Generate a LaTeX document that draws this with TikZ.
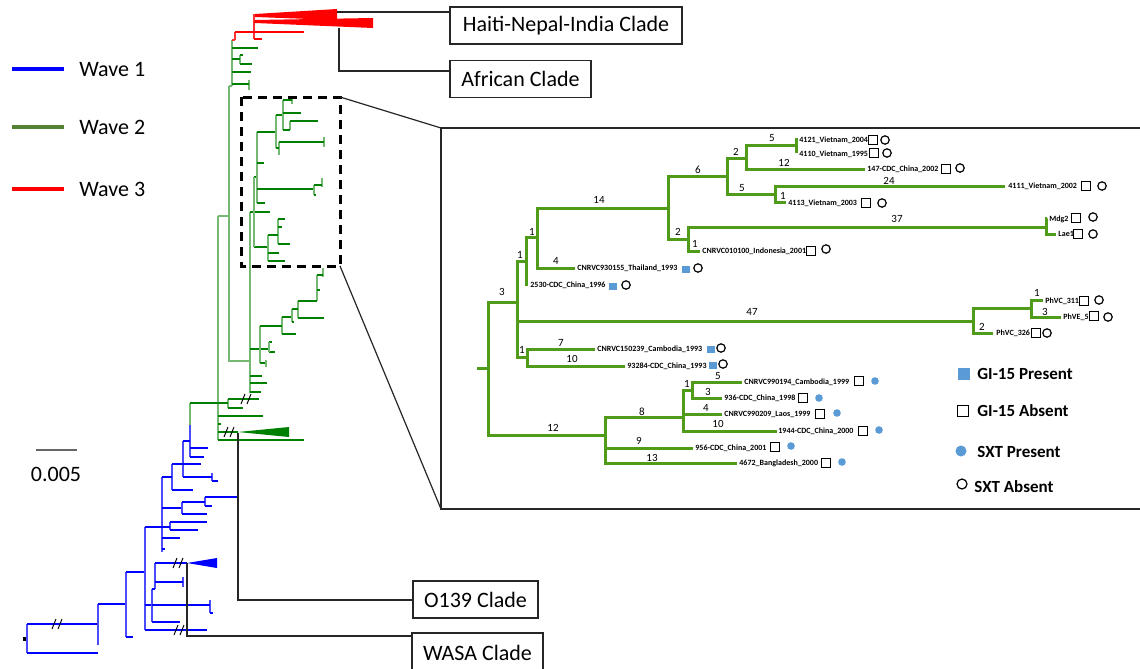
\documentclass[tikz,border=0pt]{standalone}
\usepackage{fontspec}
\setmainfont{Carlito}
\usepackage{xcolor}
\usepackage{tikz}
\usetikzlibrary{calc}

\definecolor{waveblue}{RGB}{0,0,255}
\definecolor{wavegreen}{RGB}{0,128,0}
\definecolor{wavered}{RGB}{255,0,0}
\definecolor{keygreen}{RGB}{84,130,53}
\definecolor{insetgreen}{RGB}{80,155,25}
\definecolor{markblue}{RGB}{91,155,213}

\begin{document}
\begin{tikzpicture}[x=0.5pt,y=-0.5pt,line join=miter,
    w1/.style={draw=waveblue,line width=1.3pt},
    w1v/.style={draw=waveblue!70,line width=0.8pt},
    w2/.style={draw=wavegreen,line width=1.3pt},
    w2v/.style={draw=wavegreen!55,line width=0.8pt},
    w3/.style={draw=wavered,line width=1.3pt},
    w3v/.style={draw=wavered!80,line width=0.8pt},
    slash/.style={draw=black,line width=0.5pt},
    lnk/.style={draw=black!85,line width=0.7pt},
    cladebox/.style={draw=black!85,line width=0.7pt,inner sep=0pt,minimum height=18.5pt,font=\fontsize{11}{13}\selectfont},
    keytxt/.style={anchor=west,inner sep=0pt,font=\fontsize{11}{13}\selectfont},
    br/.style={draw=insetgreen,line width=1.5pt},
    brnum/.style={inner sep=0pt,font=\fontsize{5.5}{6}\selectfont},
    leaflbl/.style={anchor=west,inner sep=0pt,font=\bfseries\fontsize{4}{5}\selectfont},
    gipres/.style={fill=markblue,minimum width=4pt,minimum height=3.5pt,inner sep=0pt},
    giabs/.style={draw=black,line width=0.6pt,minimum size=4.2pt,inner sep=0pt},
    sxtpres/.style={circle,fill=markblue,minimum size=3.8pt,inner sep=0pt},
    sxtabs/.style={circle,draw=black,line width=0.6pt,minimum size=4.2pt,inner sep=0pt},
    legtxt/.style={anchor=west,inner sep=0pt,font=\bfseries\fontsize{8.5}{10}\selectfont}]

    \useasboundingbox (0,0) rectangle (1140,669);
    \fill[white] (0,0) rectangle (1140,669);

    % waves key and scale
    \draw[draw=waveblue,line width=2pt] (12,69) -- (64,69);
    \node[keytxt] (k1) at (79,69) {Wave 1};
    \draw[draw=keygreen,line width=2pt] (12,127) -- (64,127);
    \node[keytxt] (k2) at (79,127) {Wave 2};
    \draw[draw=wavered,line width=2pt] (12,189) -- (64,189);
    \node[keytxt] (k3) at (79,189) {Wave 3};
    \draw[draw=black!60,line width=0.7pt] (36,450) -- (77,450);
    \node[keytxt,anchor=center] (sc) at (56,474) {0.005};

    % wave 1
    \fill[black] (23,637) rectangle (27,641);
    \draw[w1v] (27,624) -- (27,653);
    \draw[w1] (27,624) -- (98,624) (27,653) -- (98,653);
    \draw[w1v] (98,604) -- (98,645);
    \draw[w1] (98,604) -- (126,604);
    \draw[w1v] (126,572) -- (126,637);
    \draw[w1] (126,637) -- (133,637) (126,572) -- (145,572);
    \draw[w1v] (145,527) -- (145,630);
    \draw[w1] (145,630) -- (207,630) (145,605) -- (152,605);
    \draw[w1v] (152,589) -- (152,622) (210,600) -- (210,613) (155,563) -- (155,589) (183,577) -- (183,587);
    \draw[w1] (152,622) -- (180,622) (152,605) -- (210,605) (210,613) -- (213,613) (152,589) -- (155,589);
    \draw[w1] (155,563) -- (187,563) (155,582) -- (183,582);
    \fill[waveblue] (187,563) -- (217,558) -- (217,568) -- cycle;
    \draw[w1v] (170,522) -- (170,530) (162,477) -- (162,552);
    \draw[w1] (145,527) -- (170,527) (170,522) -- (207,522) (170,530) -- (198,530);
    \draw[w1] (162,538) -- (180,538) (162,549) -- (165,549) (162,508) -- (182,508);
    \draw[w1v] (182,502) -- (182,514) (205,497) -- (205,506);
    \draw[w1] (182,514) -- (207,514) (182,502) -- (205,502) (205,497) -- (238,497) (205,506) -- (212,506);
    \draw[w1v] (172,464) -- (172,490) (183,441) -- (183,477) (212,473) -- (212,481) (190,425) -- (190,457);
    \draw[w1] (162,477) -- (172,477) (172,490) -- (193,490) (172,464) -- (201,464);
    \draw[w1] (183,477) -- (212,477) (212,481) -- (218,481) (183,441) -- (190,441);
    \draw[w1] (190,448) -- (208,448) (190,457) -- (204,457);

    % wave 2
    \draw[w2v] (190,403) -- (190,425) (218,216) -- (218,440) (228,399) -- (228,408);
    \draw[w2] (190,403) -- (228,403) (228,399) -- (259,399) (228,408) -- (243,408);
    \draw[w2] (218,416) -- (263,416) (218,424) -- (221,424) (218,432) -- (238,432) (218,440) -- (304,440);
    \fill[wavegreen] (238,432) -- (289,427) -- (289,437) -- cycle;
    \draw[w2v] (218,216) -- (229,216) (229,86) -- (229,361) -- (250,361) (250,212) -- (250,393);
    \draw[w2] (250,376) -- (262,376) (250,383) -- (267,383) (250,392) -- (261,392);
    \draw[w2] (250,349) -- (269,349) (269,342) -- (272,342) (269,352) -- (275,352);
    \draw[w2v] (269,342) -- (269,352) (260,326) -- (260,363) (282,317) -- (282,334);
    \draw[w2] (260,363) -- (266,363) (260,326) -- (282,326) (282,334) -- (296,334) (282,317) -- (292,317);
    \draw[w2v] (266,360) -- (266,367) (292,309) -- (292,322) (298,301) -- (298,318) (317,275) -- (317,301) (323,268) -- (323,277);
    \draw[w2] (292,322) -- (294,322) (292,309) -- (298,309) (298,318) -- (324,318) (298,301) -- (317,301);
    \draw[w2] (317,290) -- (320,290) (317,275) -- (323,275);
    % in the box
    \draw[w2] (250,212) -- (270,212) (254,247) -- (268,247) (254,177) -- (257,177);
    \draw[w2v] (254,177) -- (254,247) (257,132) -- (257,203) (268,235) -- (268,261) (278,219) -- (278,244);
    \draw[w2] (268,235) -- (278,235) (278,219) -- (285,219) (278,227) -- (282,227) (278,244) -- (290,244);
    \draw[w2] (268,253) -- (279,253) (268,261) -- (285,261);
    \draw[w2] (257,163) -- (264,163) (257,189) -- (314,189) (257,203) -- (265,203);
    \draw[w2v] (314,185) -- (314,195) (322,178) -- (322,187);
    \draw[w2] (314,185) -- (322,185) (314,195) -- (316,195);
    \draw[w2] (257,132) -- (276,132);
    \draw[w2v] (276,115) -- (276,148) (279,142) -- (279,155) (324,137) -- (324,147);
    \draw[w2] (276,148) -- (279,148) (279,142) -- (324,142) (276,115) -- (283,115);
    \draw[w2v] (283,100) -- (283,130) (292,97) -- (292,104) (290,121) -- (290,130);
    \draw[w2] (283,100) -- (292,100) (283,113) -- (301,113) (283,130) -- (290,130) (290,121) -- (318,121);
    % top of wave 2
    \draw[w2v] (229,86) -- (232,86) (232,40) -- (232,86) (240,55) -- (240,64) (249,80) -- (249,90);
    \draw[w2] (232,48) -- (258,48) (232,59) -- (240,59) (240,55) -- (243,55) (240,64) -- (252,64);
    \draw[w2] (232,72) -- (251,72) (232,84) -- (249,84);

    % wave 3
    \draw[w3v] (232,40) -- (235,40) (235,32) -- (235,40) (254,14) -- (254,39);
    \draw[w3] (235,32) -- (304,32) (254,39) -- (262,39) (254,22) -- (260,22);
    \fill[wavered] (255,14) -- (337,9) -- (337,20) -- (255,17) -- cycle;
    \fill[wavered] (255,20) -- (373,18) -- (373,28) -- (255,23) -- cycle;

    % broken branches
    \foreach \x/\y in {57/624,179/630,178/563,246/399,229/432}
        \draw[slash] (\x-5,\y+5) -- (\x-1,\y-5) (\x+1,\y+5) -- (\x+5,\y-5);

    % clades
    \node[cladebox,minimum width=116pt] (hni) at (566,25.5) {Haiti-Nepal-India Clade};
    \node[cladebox,minimum width=70.5pt] (afr) at (520.5,79) {African Clade};
    \node[cladebox,minimum width=62.5pt] (o139) at (475.5,599.5) {O139 Clade};
    \node[cladebox,minimum width=65.5pt,minimum height=20pt] (wasa) at (477.5,653) {WASA Clade};
    \draw[lnk] (337,12) -- (hni.west |- 0,12);
    \draw[lnk] (339,28) -- (339,71) -- (afr.west |- 0,71);
    \draw[lnk] (238,433) -- (238,600) -- (o139.west |- 0,600);
    \draw[lnk] (187,563) -- (187,636) -- (wasa.west |- 0,636);

    % zoom
    \draw[black,line width=1.5pt,dash pattern=on 4.5pt off 3pt] (241,97) rectangle (340,266);
    \draw[black!85,line width=0.6pt] (340,97) -- (441,128) (340,266) -- (441,509);
    \draw[black!85,line width=0.8pt] (1145,128) -- (441,128) -- (441,509) -- (1145,509);

    % inset tree
    \draw[br] (477,368) -- (488,368);
    \draw[br] (517,302) -- (488,302) -- (488,435) -- (605,435);
    \draw[br] (526,261) -- (517,261) -- (517,357) -- (527,357);
    \draw[br] (517,321) -- (973,321);
    \draw[br] (595,349) -- (527,349) -- (527,366) -- (625,366);
    \draw[br] (537,237) -- (526,237) -- (526,284) -- (528,284);
    \draw[br] (668,208) -- (537,208) -- (537,268) -- (575,268);
    \draw[br] (727,176) -- (668,176) -- (668,239) -- (688,239);
    \draw[br] (1046,227) -- (688,227) -- (688,251) -- (700,251);
    \draw[br] (1047,218) -- (1046,218) -- (1046,234) -- (1056,234);
    \draw[br] (746,158) -- (727,158) -- (727,194) -- (775,194);
    \draw[br] (796,145) -- (746,145) -- (746,169) -- (865,169);
    \draw[br] (796,138) -- (796,153);
    \draw[br] (1005,186) -- (775,186) -- (775,202) -- (786,202);
    \draw[br] (1031,308) -- (973,308) -- (973,333) -- (993,333);
    \draw[br] (1043,300) -- (1031,300) -- (1031,317) -- (1061,317);
    \draw[br] (683,417) -- (605,417) -- (605,463) -- (737,463);
    \draw[br] (605,448) -- (693,448);
    \draw[br] (692,390) -- (683,390) -- (683,431) -- (777,431);
    \draw[br] (683,414) -- (722,414);
    \draw[br] (742,382) -- (692,382) -- (692,398) -- (722,398);

    % branch lengths
    \node[brnum] (n1) at (502,292) {3};
    \node[brnum] (n2) at (553,428) {12};
    \node[brnum] (n3) at (752,312) {47};
    \node[brnum] (n4) at (522,350) {1};
    \node[brnum] (n5) at (561,343) {7};
    \node[brnum] (n6) at (572,359) {10};
    \node[brnum] (n7) at (520,255) {1};
    \node[brnum] (n8) at (532,232) {1};
    \node[brnum] (n9) at (556,261) {4};
    \node[brnum] (n10) at (599,200) {14};
    \node[brnum] (n11) at (698,170) {6};
    \node[brnum] (n12) at (678,232) {2};
    \node[brnum] (n13) at (695,244) {1};
    \node[brnum] (n14) at (897,219) {37};
    \node[brnum] (n15) at (736,152) {2};
    \node[brnum] (n16) at (772,138) {5};
    \node[brnum] (n17) at (784,163) {12};
    \node[brnum] (n18) at (742,188) {5};
    \node[brnum] (n19) at (889,181) {24};
    \node[brnum] (n20) at (783,196) {1};
    \node[brnum] (n21) at (1037,293) {1};
    \node[brnum] (n22) at (1045,312) {3};
    \node[brnum] (n23) at (982,327) {2};
    \node[brnum] (n24) at (642,412) {8};
    \node[brnum] (n25) at (687,384) {1};
    \node[brnum] (n26) at (718,376) {5};
    \node[brnum] (n27) at (708,392) {3};
    \node[brnum] (n28) at (706,408) {4};
    \node[brnum] (n29) at (718,424) {10};
    \node[brnum] (n30) at (639,441) {9};
    \node[brnum] (n31) at (652,458) {13};

    % strains
    \node[leaflbl] (s1) at (799,140) {4121\_Vietnam\_2004}; \node[giabs] (g1) at (873,140) {}; \node[sxtabs] (x1) at (885,140) {};
    \node[leaflbl] (s2) at (799,154) {4110\_Vietnam\_1995}; \node[giabs] (g2) at (874,153) {}; \node[sxtabs] (x2) at (887,153) {};
    \node[leaflbl] (s3) at (867,169) {147-CDC\_China\_2002}; \node[giabs] (g3) at (946,169) {}; \node[sxtabs] (x3) at (960,168) {};
    \node[leaflbl] (s4) at (1008,186) {4111\_Vietnam\_2002}; \node[giabs] (g4) at (1086,186) {}; \node[sxtabs] (x4) at (1102,186) {};
    \node[leaflbl] (s5) at (788,203) {4113\_Vietnam\_2003}; \node[giabs] (g5) at (866,203) {}; \node[sxtabs] (x5) at (882,203) {};
    \node[leaflbl] (s6) at (1049,219) {Mdg2}; \node[giabs] (g6) at (1076,218) {}; \node[sxtabs] (x6) at (1093,217) {};
    \node[leaflbl] (s7) at (1058,234) {Lae1}; \node[giabs] (g7) at (1078,234) {}; \node[sxtabs] (x7) at (1093,234) {};
    \node[leaflbl] (s8) at (702,251) {CNRVC010100\_Indonesia\_2001}; \node[giabs] (g8) at (811,251) {}; \node[sxtabs] (x8) at (826,249) {};
    \node[leaflbl] (s9) at (577,268) {CNRVC930155\_Thailand\_1993}; \node[gipres] (g9) at (686,269) {}; \node[sxtabs] (x9) at (698,268) {};
    \node[leaflbl] (s10) at (530,285) {2530-CDC\_China\_1996}; \node[gipres] (g10) at (613,286) {}; \node[sxtabs] (x10) at (626,285) {};
    \node[leaflbl] (s11) at (1045,301) {PhVC\_311}; \node[giabs] (g11) at (1084,301) {}; \node[sxtabs] (x11) at (1099,300) {};
    \node[leaflbl] (s12) at (1063,317) {PhVE\_5}; \node[giabs] (g12) at (1094,316) {}; \node[sxtabs] (x12) at (1108,317) {};
    \node[leaflbl] (s13) at (996,333) {PhVC\_326}; \node[giabs] (g13) at (1036,333) {}; \node[sxtabs] (x13) at (1047,333) {};
    \node[leaflbl] (s14) at (597,349) {CNRVC150239\_Cambodia\_1993}; \node[gipres] (g14) at (711,349) {}; \node[sxtabs] (x14) at (721,348) {};
    \node[leaflbl] (s15) at (627,366) {93284-CDC\_China\_1993}; \node[gipres] (g15) at (713,365) {}; \node[sxtabs] (x15) at (723,364) {};
    \node[leaflbl] (s16) at (744,382) {CNRVC990194\_Cambodia\_1999}; \node[giabs] (g16) at (859,381) {}; \node[sxtpres] (x16) at (875,381) {};
    \node[leaflbl] (s17) at (724,398) {936-CDC\_China\_1998}; \node[giabs] (g17) at (803,398) {}; \node[sxtpres] (x17) at (819,398) {};
    \node[leaflbl] (s18) at (724,414) {CNRVC990209\_Laos\_1999}; \node[giabs] (g18) at (820,414) {}; \node[sxtpres] (x18) at (837,413) {};
    \node[leaflbl] (s19) at (778,431) {1944-CDC\_China\_2000}; \node[giabs] (g19) at (863,431) {}; \node[sxtpres] (x19) at (879,430) {};
    \node[leaflbl] (s20) at (695,448) {956-CDC\_China\_2001}; \node[giabs] (g20) at (775,447) {}; \node[sxtpres] (x20) at (791,446) {};
    \node[leaflbl] (s21) at (739,463) {4672\_Bangladesh\_2000}; \node[giabs] (g21) at (826,463) {}; \node[sxtpres] (x21) at (842,462) {};

    % markers key
    \node[gipres,minimum size=6pt] (m1) at (964,374) {}; \node[legtxt] (t1) at (977,374) {GI-15 Present};
    \node[giabs,minimum size=5.8pt] (m2) at (963,411) {}; \node[legtxt] (t2) at (977,411) {GI-15 Absent};
    \node[sxtpres,minimum size=5.5pt] (m3) at (961,451) {}; \node[legtxt] (t3) at (977,452) {SXT Present};
    \node[sxtabs,minimum size=5pt] (m4) at (962,484) {}; \node[legtxt] (t4) at (974,487) {SXT Absent};
\end{tikzpicture}
\end{document}
